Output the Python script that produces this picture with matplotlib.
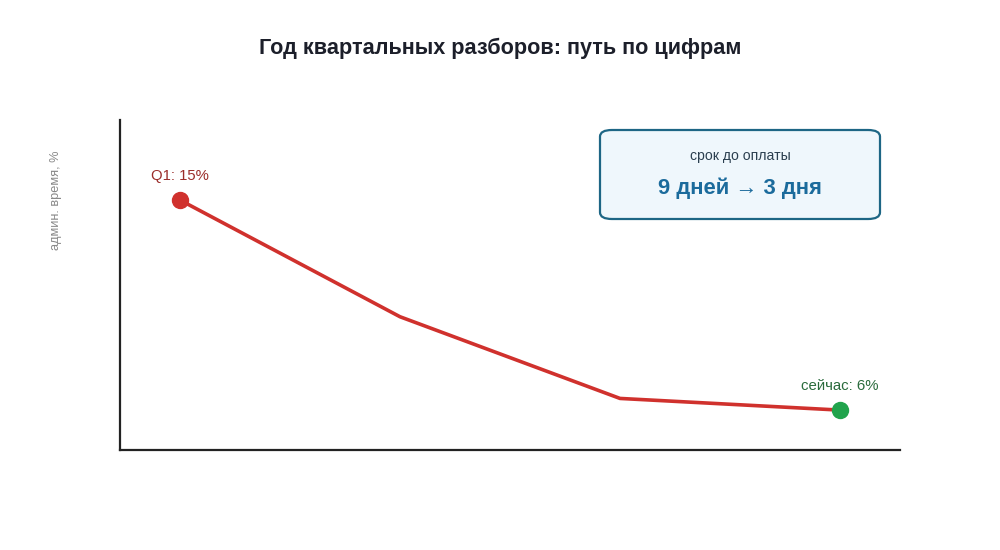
import matplotlib
matplotlib.use("Agg")
import matplotlib.pyplot as plt
from matplotlib.patches import FancyBboxPatch

plt.rcParams['font.family'] = ['Liberation Sans', 'DejaVu Sans']

quarters = ["Q1", "Q2", "Q3", "Q4"]
admin_time = [15, 10, 6.5, 6]
start_label = "Q1: 15%"
end_label = "сейчас: 6%"
box_title = "срок до оплаты"
box_value = "9 дней → 3 дня"

fig = plt.figure(figsize=(10, 5.5), dpi=100)
ax = fig.add_axes([0.12, 0.1818, 0.78, 0.6])

x = list(range(len(quarters)))
ax.plot(x, admin_time, color="#d0312d", lw=2.6, solid_capstyle="round", zorder=2)
ax.plot(x[0], admin_time[0], "o", color="#d0312d", ms=11.5, zorder=3)
ax.plot(x[-1], admin_time[-1], "o", color="#21a34c", ms=11.5, zorder=3)

ax.set_xlim(-0.2727, 3.2727)
ax.set_ylim(4.29, 18.43)
ax.set_xticks([])
ax.set_yticks([])
for s in ["top", "right"]:
    ax.spines[s].set_visible(False)
for s in ["left", "bottom"]:
    ax.spines[s].set_color("#222222")
    ax.spines[s].set_linewidth(1.6)

ax.annotate(start_label, (x[0], admin_time[0]), xytext=(0, 12.5), textcoords="offset points",
            ha="center", va="bottom", fontsize=10.7, color="#9b2d2a")
ax.annotate(end_label, (x[-1], admin_time[-1]), xytext=(0, 12), textcoords="offset points",
            ha="center", va="bottom", fontsize=10.8, color="#2a6b3c")

fig.text(0.5, 1 - 48 / 550, "Год квартальных разборов: путь по цифрам", ha="center", va="center",
         fontsize=15.6, fontweight="bold", color="#1c1f2a")
fig.text(56 / 1000, 1 - 200 / 550, "админ. время, %", rotation=90, ha="center", va="center",
         fontsize=9.2, color="#888888")

box = FancyBboxPatch((600 / 1000, 1 - 219 / 550), 280 / 1000, 89 / 550,
                     boxstyle="round,pad=0,rounding_size=0.012", transform=fig.transFigure,
                     facecolor="#eff7fc", edgecolor="#1d6685", linewidth=1.6, zorder=5)
fig.add_artist(box)
fig.text(740 / 1000, 1 - 156 / 550, box_title, ha="center", va="center", fontsize=10.1,
         color="#2b3f4f", zorder=6)
fig.text(740 / 1000, 1 - 188 / 550, box_value, ha="center", va="center", fontsize=15.8,
         fontweight="bold", color="#1b6b9c", zorder=6)

fig.savefig("out.png", dpi=100, facecolor="white")
